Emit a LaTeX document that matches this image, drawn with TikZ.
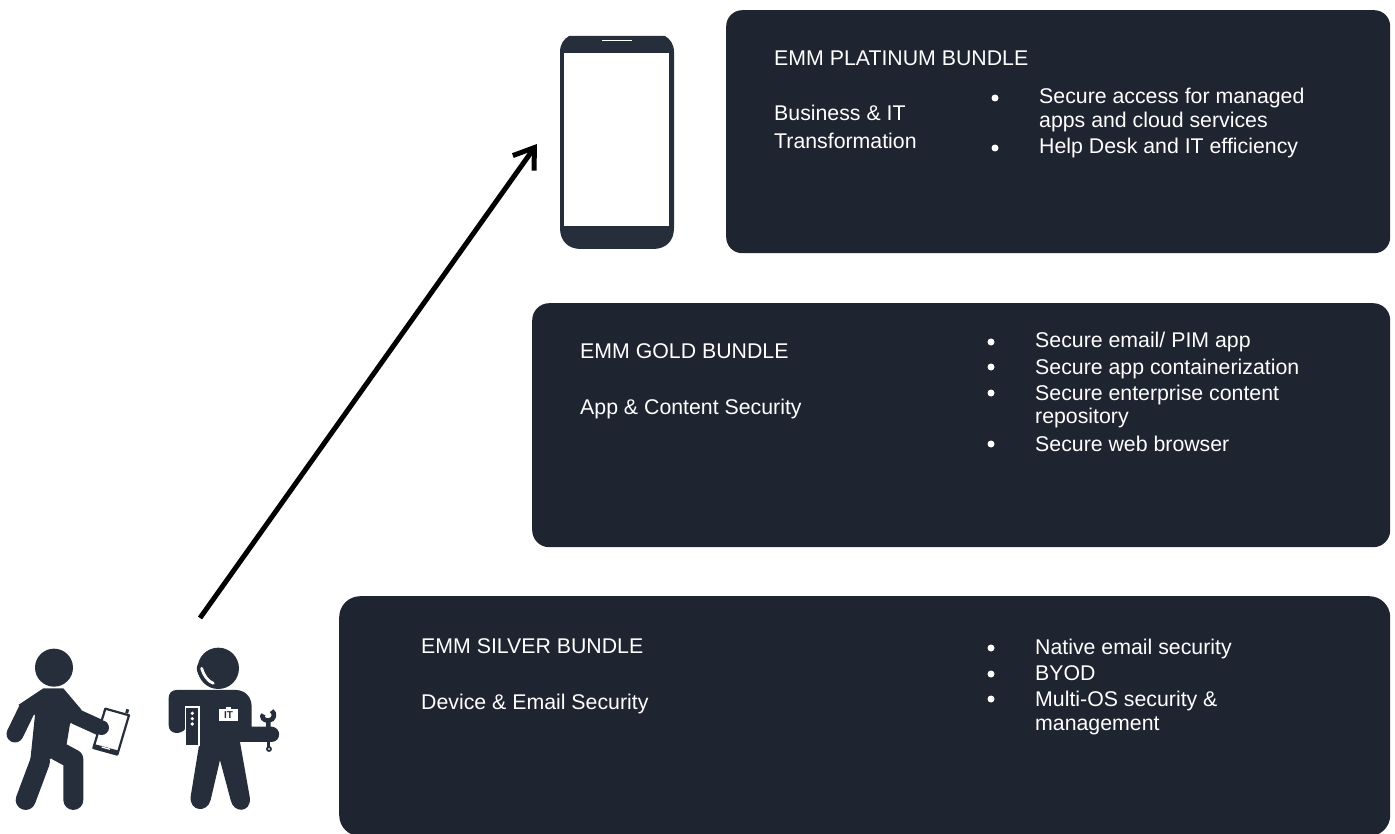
\documentclass[tikz,border=0pt]{standalone}
\usepackage{fontspec}
\setmainfont{Liberation Sans}
\usetikzlibrary{arrows.meta}
\definecolor{boxdark}{HTML}{1E2430}
\definecolor{icondark}{HTML}{262E3C}
\tikzset{
	txt/.style={anchor=base west,inner sep=0,text=white,font=\fontsize{21.3}{21.3}\selectfont},
	limb/.style={draw=icondark,line cap=round,line join=round}
}
\newcommand{\bundle}[6]{
\node[fill=boxdark,rounded corners=#6pt,minimum width=#3pt,minimum height=#4pt,inner sep=0,anchor=north west] (#5) at (#1,#2) {};}
\newcommand{\lbl}[4]{
\node[txt] (#1) at (#2,#3) {#4};}
\newcommand{\bul}[2]{
\fill[white] (#1,#2) circle (3.5);}

\begin{document}
\begin{tikzpicture}[x=1pt,y=-1pt]
\useasboundingbox (0,0) rectangle (1395,834);

% bundles
\bundle{726}{10}{664}{243}{platinum}{16}
\bundle{532}{303}{858}{244}{gold}{17}
\bundle{339}{596}{1051}{240}{silver}{21}

\lbl{platA}{774}{66}{EMM PLATINUM BUNDLE}
\lbl{platB}{774}{121}{Business \& IT}
\lbl{platC}{774}{149}{Transformation}
\lbl{platD}{1039}{104}{Secure access for managed}
\lbl{platE}{1039}{128}{apps and cloud services}
\lbl{platF}{1039}{154}{Help Desk and IT efficiency}
\bul{995}{98}
\bul{995}{148}

\lbl{goldA}{580}{358}{EMM GOLD BUNDLE}
\lbl{goldB}{580}{414}{App \& Content Security}
\lbl{goldC}{1035}{348}{Secure email/ PIM app}
\lbl{goldD}{1035}{374}{Secure app containerization}
\lbl{goldE}{1035}{400}{Secure enterprise content}
\lbl{goldF}{1035}{423}{repository}
\lbl{goldG}{1035}{451}{Secure web browser}
\foreach \a in {342,367,393,444}{
	\bul{991}{\a}
}

\lbl{silvA}{421}{653}{EMM SILVER BUNDLE}
\lbl{silvB}{421}{709}{Device \& Email Security}
\lbl{silvC}{1035}{654}{Native email security}
\lbl{silvD}{1035}{680}{BYOD}
\lbl{silvE}{1035}{706}{Multi-OS security \&}
\lbl{silvF}{1035}{730}{management}
\foreach \a in {648,674,699}{
	\bul{991}{\a}
}

% phone
\fill[icondark] (560,52) .. controls (560,44) and (564,39) .. (569,36) -- (665,36) .. controls (670,39) and (674,44) .. (674,52)
	-- (674,228) .. controls (674,241) and (666,249) .. (653,249) -- (581,249) .. controls (568,249) and (560,241) .. (560,228) -- cycle;
\fill[white] (564,53) rectangle (669,226);
\draw[white,line width=1.6] (602,40.5) -- (632,40.5);

% arrow
\coordinate (usersTop) at (200,618);
\coordinate (phoneTip) at (537,144);
\draw[line width=5,-{Straight Barb[length=19pt,width=26pt]}] (usersTop) -- (phoneTip);

% user, in zoomed units
\begin{scope}[shift={(0,600)},x=0.3333pt,y=-0.3333pt]
\fill[icondark] (162,203) circle (57);
\fill[icondark] (130,265) -- (190,265) -- (245,330) -- (210,372) -- (200,432) -- (150,478) -- (90,490) -- (105,345) -- (55,315) -- cycle;
\draw[limb,line width=17] (80,330) -- (45,402);
\draw[limb,line width=16] (228,350) -- (305,385);
\draw[limb,line width=20] (120,485) -- (77,600);
\draw[limb,line width=20] (172,452) -- (220,478) -- (220,600);
\draw[draw=icondark,fill=white,line width=2.2,line join=round] (316,326) -- (387,346) -- (352,464) -- (280,444) -- cycle;
\fill[icondark] (286,433) -- (356,452) -- (352,464) -- (280,444) -- cycle;
\draw[white,line width=1.2] (305,441) -- (330,448);
\draw[icondark,line width=3] (380,340) -- (383,328);
\fill[icondark] (305,383) circle (22);
\end{scope}

% it worker, in zoomed units
\begin{scope}[shift={(0,600)},x=0.3333pt,y=-0.3333pt]
\fill[icondark] (655,205) circle (62);
\fill[icondark] (600,185) .. controls (578,205) and (595,240) .. (640,260) -- (650,240) -- cycle;
\draw[white,line width=2.8,line cap=round] (605,205) .. controls (610,225) and (625,245) .. (640,250);
\fill[icondark] (530,270) -- (710,270) .. controls (740,272) and (755,295) .. (755,320) -- (755,380) -- (815,380)
	.. controls (845,382) and (845,425) .. (815,426) -- (720,426) -- (750,595) .. controls (752,640) and (700,640) .. (692,600)
	-- (660,480) -- (632,600) .. controls (622,640) and (568,635) .. (572,590) -- (597,437) -- (557,437) -- (557,385)
	.. controls (545,405) and (506,405) .. (506,375) -- (506,295) .. controls (506,280) and (515,270) .. (530,270) -- cycle;
\draw[draw=white,fill=icondark,line width=1.4] (557,321) rectangle (597,437);
\foreach \a in {340,356,372}{
	\fill[white] (577,\a) circle (5.5);
}
\fill[white] (658,327) rectangle (713,362);
\fill[white] (678,320) rectangle (693,328);
\node[inner sep=0,text=icondark,font=\fontsize{10}{10}\selectfont\bfseries] (badge) at (685.5,345) {IT};
\draw[icondark,line width=4.6] (805,385) -- (805,362) .. controls (824,360) and (827,340) .. (815,332);
\draw[icondark,line width=4.6] (805,362) .. controls (790,362) and (783,350) .. (790,343);
\draw[draw=icondark,fill=white,line width=1.8] (807,447) circle (6);
\draw[icondark,line width=3] (807,425) -- (807,441);
\end{scope}
\end{tikzpicture}
\end{document}
